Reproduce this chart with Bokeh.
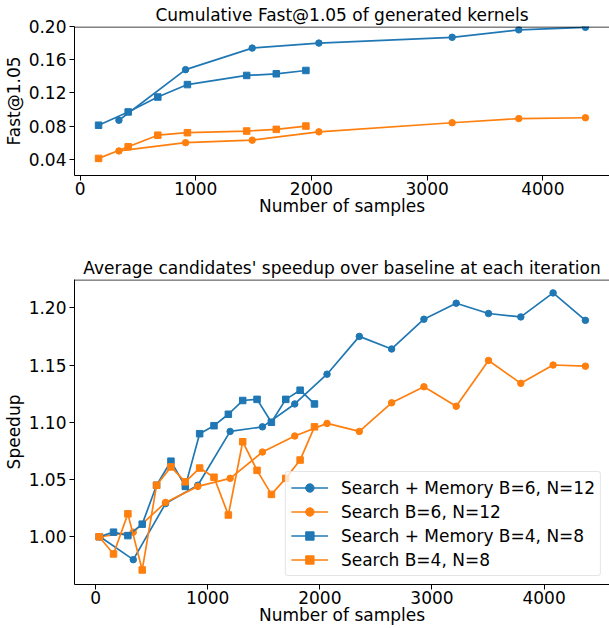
from bokeh.plotting import figure
from bokeh.layouts import column
from bokeh.models import Range1d, FixedTicker, PrintfTickFormatter, Span
from bokeh.embed import file_html
from bokeh.resources import INLINE

FONT = "DejaVu Sans"
FS = "17px"
BLUE = "#1f77b4"
ORANGE = "#ff7f0e"

# ---------- Top chart: cumulative Fast@1.05 ----------
fast_x_b6 = [336, 912, 1488, 2064, 3216, 3792, 4368]
fast_mem_b6 = [0.087, 0.148, 0.174, 0.180, 0.187, 0.196, 0.199]
fast_search_b6 = [0.050, 0.060, 0.063, 0.073, 0.084, 0.089, 0.090]
fast_x_b4 = [160, 416, 672, 928, 1440, 1696, 1952]
fast_mem_b4 = [0.081, 0.097, 0.115, 0.130, 0.141, 0.143, 0.147]
fast_search_b4 = [0.041, 0.055, 0.069, 0.072, 0.074, 0.076, 0.080]
fast_xticks = [0, 1000, 2000, 3000, 4000]
fast_yticks = [0.04, 0.08, 0.12, 0.16, 0.20]

# ---------- Bottom chart: average speedup per iteration ----------
sp_x_b6 = [40, 336, 624, 912, 1200, 1488, 1776, 2064, 2352, 2640, 2928, 3216, 3504, 3792, 4080, 4368]
sp_mem_b6 = [1.000, 0.980, 1.029, 1.045, 1.092, 1.096, 1.116, 1.142, 1.175, 1.164, 1.190, 1.204, 1.195, 1.192, 1.213, 1.189]
sp_search_b6 = [1.000, 1.004, 1.030, 1.044, 1.051, 1.074, 1.088, 1.099, 1.092, 1.117, 1.131, 1.114, 1.154, 1.134, 1.150, 1.149]
sp_x_b4 = [32, 160, 288, 416, 544, 672, 800, 928, 1056, 1184, 1312, 1440, 1568, 1696, 1824, 1952]
sp_mem_b4 = [1.000, 1.004, 1.001, 1.011, 1.045, 1.066, 1.044, 1.090, 1.097, 1.107, 1.119, 1.120, 1.100, 1.120, 1.128, 1.116]
sp_search_b4 = [1.000, 0.985, 1.020, 0.971, 1.045, 1.061, 1.048, 1.060, 1.052, 1.019, 1.083, 1.058, 1.037, 1.051, 1.067, 1.096]
sp_xticks = [0, 1000, 2000, 3000, 4000]
sp_yticks = [1.00, 1.05, 1.10, 1.15, 1.20]

labels = ["Search + Memory B=6, N=12", "Search B=6, N=12",
          "Search + Memory B=4, N=8", "Search B=4, N=8"]


def style(p, xticks, yticks, xlabel, ylabel, top_px):
    p.outline_line_color = None
    p.xgrid.grid_line_color = None
    p.ygrid.grid_line_color = None
    p.background_fill_color = "white"
    p.border_fill_color = "white"
    p.title.text_font = FONT
    p.title.text_font_size = FS
    p.title.text_font_style = "normal"
    p.title.text_color = "black"
    p.title.align = "center"
    p.title.standoff = 4
    p.title.offset = 0
    p.xaxis.ticker = FixedTicker(ticks=xticks)
    p.yaxis.ticker = FixedTicker(ticks=yticks)
    p.yaxis.formatter = PrintfTickFormatter(format="%.2f")
    p.xaxis.axis_label = xlabel
    p.yaxis.axis_label = ylabel
    for ax in (p.xaxis[0], p.yaxis[0]):
        ax.axis_line_color = "black"
        ax.axis_line_width = 1
        ax.major_tick_line_color = "black"
        ax.major_tick_line_width = 1
        ax.major_tick_out = 5
        ax.major_tick_in = 0
        ax.minor_tick_line_color = None
        ax.major_label_text_font = FONT
        ax.major_label_text_font_size = FS
        ax.major_label_text_color = "black"
        ax.axis_label_text_font = FONT
        ax.axis_label_text_font_size = FS
        ax.axis_label_text_font_style = "normal"
        ax.axis_label_text_color = "black"
    p.xaxis.major_label_standoff = 1
    p.xaxis.axis_label_standoff = -2
    p.yaxis.major_label_standoff = 3
    p.yaxis.axis_label_standoff = 2
    # top spine (drawn just inside the frame so it is not clipped)
    p.add_layout(Span(location=top_px, dimension="width",
                      line_color="black", line_width=1))


# ---------------- top figure ----------------
p1 = figure(frame_width=535, frame_height=149, output_backend="svg",
            toolbar_location=None,
            title="Cumulative Fast@1.05 of generated kernels",
            x_range=Range1d(-48, 4576), y_range=Range1d(0.0204, 0.200),
            min_border_left=66, min_border_right=0, min_border_top=22,
            min_border_bottom=50)
style(p1, fast_xticks, fast_yticks, "Number of samples", "Fast@1.05", 0.1994)

for xs, ys, color, marker in [
    (fast_x_b6, fast_mem_b6, BLUE, "circle"),
    (fast_x_b6, fast_search_b6, ORANGE, "circle"),
    (fast_x_b4, fast_mem_b4, BLUE, "square"),
    (fast_x_b4, fast_search_b4, ORANGE, "square"),
]:
    p1.line(xs, ys, line_color=color, line_width=1.7, line_join="round")
    p1.scatter(xs, ys, marker=marker, size=6.5,
               fill_color=color, line_color=color, line_width=1)

# ---------------- bottom figure ----------------
p2 = figure(frame_width=535, frame_height=305, output_backend="svg",
            toolbar_location=None,
            title="Average candidates' speedup over baseline at each iteration",
            x_range=Range1d(-188, 4583), y_range=Range1d(0.9583, 1.2247),
            min_border_left=66, min_border_right=0, min_border_top=54,
            min_border_bottom=40)
style(p2, sp_xticks, sp_yticks, "Number of samples", "Speedup", 1.2243)

for xs, ys, color, marker, lab in [
    (sp_x_b6, sp_mem_b6, BLUE, "circle", labels[0]),
    (sp_x_b6, sp_search_b6, ORANGE, "circle", labels[1]),
    (sp_x_b4, sp_mem_b4, BLUE, "square", labels[2]),
    (sp_x_b4, sp_search_b4, ORANGE, "square", labels[3]),
]:
    p2.line(xs, ys, line_color=color, line_width=1.7, line_join="round",
            legend_label=lab)
    p2.scatter(xs, ys, marker=marker, size=6.5,
               fill_color=color, line_color=color, line_width=1,
               legend_label=lab)

lg = p2.legend[0]
lg.location = "bottom_right"
lg.margin = 8
lg.padding = 5
lg.spacing = 3
lg.label_height = 21
lg.glyph_height = 21
lg.glyph_width = 37
lg.label_standoff = 13
lg.label_text_font = FONT
lg.label_text_font_size = FS
lg.label_text_color = "black"
lg.border_line_color = "#cccccc"
lg.border_line_width = 1
lg.background_fill_color = "white"
lg.background_fill_alpha = 0.8
if "border_radius" in lg.properties():
    lg.border_radius = 3

layout = column(p1, p2, spacing=0)
open("out.html", "w").write(file_html(layout, INLINE))
